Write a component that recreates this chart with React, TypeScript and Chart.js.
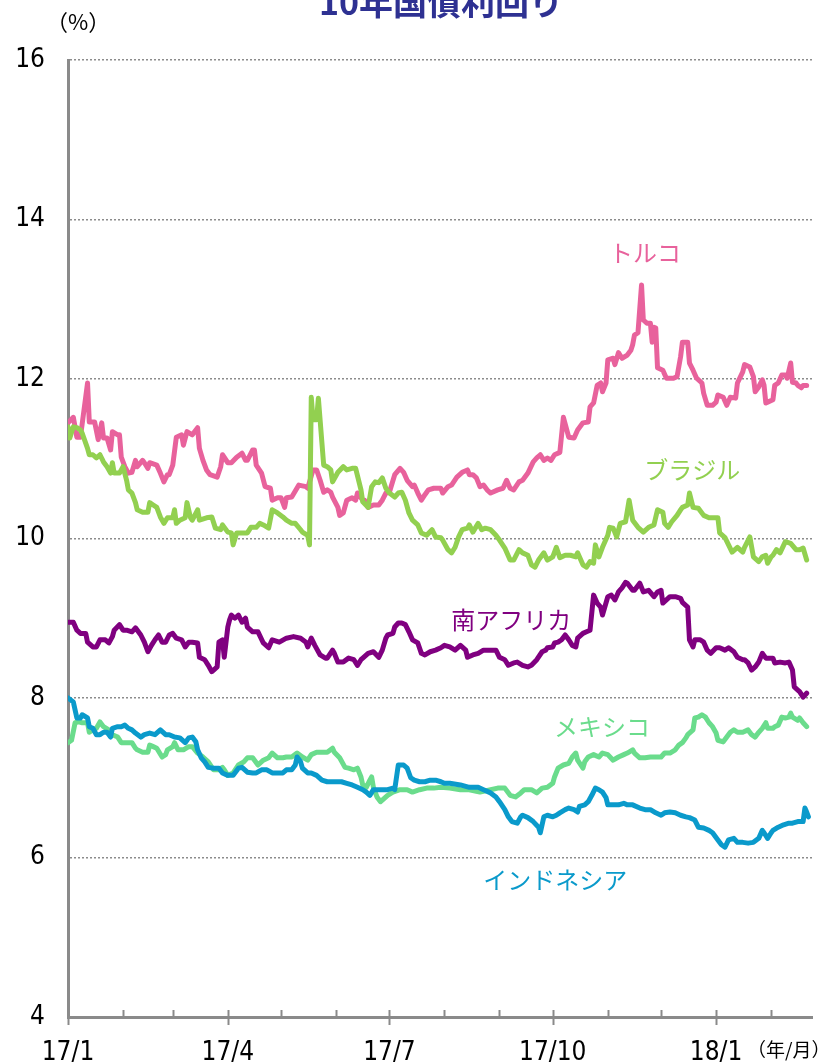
import React, { useEffect, useRef } from 'react';
import { Chart, registerables } from 'chart.js';

Chart.register(...registerables);

// ---- data (x = days since 2017-01-01, y = 10-year yield %) ----
const monthTicks = [0, 31, 59, 90, 120, 151, 181, 212, 243, 273, 304, 334, 365, 396];
const tickDays = [0, 90, 181, 273, 365];
const tickLabels = ['17/1', '17/4', '17/7', '17/10', '18/1'];
const yTicks = [4, 6, 8, 10, 12, 14, 16];

const seriesNames = ['トルコ', 'ブラジル', '南アフリカ', 'メキシコ', 'インドネシア'];

const turkeyDays = [0,3,5,7,11,12,15,17,19,20,22,24,25,28,29,30,32,34,36,38,39,42,43,45,46,50,52,54,56,57,59,61,64,65,67,70,73,74,76,78,80,84,86,87,90,92,95,98,100,101,104,105,106,109,111,114,115,118,120,122,123,126,130,134,135,138,140,142,144,146,148,149,152,153,155,157,160,162,163,166,167,169,172,175,177,179,181,184,187,189,191,194,195,197,199,201,203,206,210,211,214,216,219,222,225,226,228,230,232,234,236,238,239,242,245,247,249,251,254,256,259,262,264,266,268,270,272,274,277,279,282,285,287,290,293,294,296,298,300,301,303,304,307,308,310,312,315,317,318,319,321,323,324,326,328,329,330,331,332,335,337,341,343,345,346,349,350,352,354,357,358,360,363,365,366,369,371,373,376,377,380,381,384,386,387,389,391,392,393,394,397,398,400,402,404,405,407,408,410,411,413,414,416];
const turkeyValues = [11.45,11.52,11.27,11.27,11.95,11.46,11.46,11.24,11.45,11.26,11.26,11.11,11.34,11.30,11.30,11.02,10.90,10.82,10.83,10.98,10.90,10.98,10.95,10.88,10.95,10.92,10.82,10.71,10.80,10.80,10.92,11.27,11.30,11.17,11.34,11.30,11.39,11.13,10.98,10.86,10.80,10.77,10.90,11.05,10.95,10.95,11.02,11.07,10.98,10.98,11.11,11.11,10.92,10.82,10.65,10.63,10.48,10.51,10.51,10.39,10.51,10.52,10.67,10.65,10.63,10.86,10.86,10.73,10.58,10.61,10.58,10.52,10.39,10.29,10.32,10.48,10.51,10.48,10.57,10.48,10.48,10.39,10.42,10.42,10.48,10.57,10.58,10.80,10.88,10.83,10.73,10.65,10.67,10.57,10.48,10.55,10.61,10.63,10.63,10.57,10.65,10.67,10.77,10.83,10.86,10.80,10.80,10.76,10.65,10.67,10.61,10.57,10.58,10.61,10.63,10.73,10.63,10.61,10.71,10.73,10.82,10.96,11.01,11.05,10.98,11.01,10.98,11.05,11.08,11.52,11.27,11.26,11.36,11.45,11.46,11.65,11.70,11.92,11.95,11.84,11.95,12.24,12.26,12.18,12.33,12.26,12.30,12.36,12.43,12.55,12.58,13.18,12.74,12.70,12.70,12.46,12.65,12.64,12.14,12.11,12.01,12.01,12.03,12.28,12.46,12.46,12.20,12.11,12.01,11.95,11.82,11.67,11.67,11.71,11.80,11.77,11.67,11.77,11.76,11.95,12.09,12.18,12.15,12.03,11.84,11.90,11.99,11.92,11.70,11.71,11.74,11.92,11.95,12.05,12.05,12.01,12.20,11.96,11.95,11.92,11.89,11.92,11.92];

const brazilDays = [0,1,3,5,7,8,11,12,14,16,18,20,22,24,25,26,29,31,33,34,36,38,39,42,45,46,48,50,52,54,56,59,60,61,63,66,67,69,70,73,74,78,81,83,86,87,90,92,93,95,99,101,103,106,108,110,113,115,118,121,123,126,128,131,132,135,136,137,138,140,141,144,146,148,149,152,155,157,160,162,165,166,169,171,173,175,177,179,181,184,186,188,190,192,194,197,199,202,205,207,210,211,214,216,218,220,222,225,226,228,231,233,235,238,241,243,246,249,251,254,256,259,261,263,265,268,270,273,275,277,280,283,286,287,290,292,294,296,297,299,301,304,305,307,309,311,314,316,318,321,324,327,330,332,335,336,338,340,343,345,346,349,350,352,355,358,361,366,367,370,372,374,377,380,381,384,386,389,391,393,394,396,397,399,401,404,407,410,412,414,416];
const brazilValues = [11.40,11.26,11.40,11.39,11.36,11.32,11.13,11.05,11.05,11.01,11.05,10.96,10.90,10.82,10.95,10.82,10.82,10.90,10.73,10.61,10.57,10.45,10.36,10.33,10.33,10.45,10.42,10.39,10.27,10.19,10.26,10.26,10.36,10.19,10.23,10.26,10.45,10.26,10.23,10.36,10.23,10.26,10.27,10.13,10.11,10.17,10.08,10.07,9.92,10.07,10.07,10.07,10.14,10.14,10.19,10.17,10.13,10.36,10.32,10.27,10.23,10.19,10.19,10.11,10.08,10.04,9.92,11.77,11.49,11.49,11.76,10.92,10.90,10.86,10.71,10.83,10.90,10.86,10.88,10.88,10.61,10.46,10.39,10.65,10.71,10.70,10.76,10.63,10.57,10.52,10.57,10.58,10.48,10.32,10.23,10.17,10.07,10.04,10.11,10.02,10.01,9.98,9.86,9.82,9.89,10.02,10.11,10.13,10.17,10.08,10.19,10.11,10.13,10.11,10.04,9.98,9.88,9.73,9.73,9.86,9.82,9.79,9.67,9.64,9.73,9.82,9.73,9.77,9.89,9.76,9.79,9.79,9.77,9.82,9.67,9.64,9.71,9.69,9.92,9.77,9.89,10.04,10.14,10.13,10.02,10.19,10.21,10.48,10.23,10.14,10.08,10.14,10.17,10.36,10.33,10.19,10.14,10.21,10.29,10.36,10.39,10.42,10.57,10.39,10.38,10.29,10.26,10.26,10.07,10.01,9.92,9.83,9.89,9.83,9.89,10.02,9.77,9.71,9.77,9.79,9.69,9.77,9.79,9.86,9.82,9.96,9.94,9.86,9.86,9.88,9.73];

const safricaDays = [0,3,5,7,10,11,14,16,18,21,23,25,26,29,31,33,36,38,41,43,45,47,49,51,53,55,57,59,61,64,66,68,70,73,74,77,79,81,82,84,85,87,88,90,91,92,94,96,98,100,101,104,107,110,113,115,119,123,127,131,134,135,137,139,142,145,146,149,150,152,155,158,161,163,165,166,169,172,175,177,179,180,183,184,186,188,190,192,194,197,199,201,204,207,210,212,215,218,221,224,225,228,231,234,238,241,243,246,248,251,253,256,259,261,264,267,269,270,273,274,276,278,280,282,284,286,287,290,292,294,296,298,300,301,304,306,308,310,312,314,315,318,319,322,324,327,330,332,334,335,337,339,342,345,346,349,350,352,353,356,358,360,362,365,367,370,372,375,377,380,381,383,385,387,389,391,393,394,397,398,401,404,406,408,409,411,412,414,416];
const safricaValues = [8.95,8.95,8.85,8.81,8.81,8.70,8.64,8.64,8.73,8.73,8.69,8.77,8.85,8.92,8.85,8.85,8.83,8.88,8.79,8.70,8.58,8.66,8.73,8.79,8.70,8.70,8.79,8.81,8.75,8.73,8.64,8.70,8.70,8.69,8.51,8.48,8.41,8.33,8.35,8.39,8.70,8.73,8.51,8.89,8.98,9.04,9.00,9.04,8.95,9.00,8.89,8.83,8.83,8.69,8.63,8.73,8.70,8.75,8.77,8.75,8.70,8.64,8.75,8.66,8.54,8.50,8.50,8.60,8.56,8.45,8.45,8.50,8.48,8.41,8.48,8.50,8.56,8.58,8.51,8.60,8.75,8.79,8.81,8.89,8.94,8.94,8.92,8.83,8.73,8.69,8.56,8.54,8.58,8.60,8.63,8.66,8.64,8.60,8.66,8.60,8.51,8.54,8.56,8.60,8.60,8.60,8.51,8.48,8.41,8.44,8.45,8.41,8.39,8.41,8.48,8.58,8.60,8.63,8.64,8.69,8.70,8.73,8.79,8.73,8.66,8.64,8.75,8.81,8.83,8.85,9.29,9.19,9.14,9.04,9.27,9.29,9.23,9.33,9.38,9.45,9.44,9.35,9.35,9.44,9.33,9.35,9.27,9.33,9.35,9.19,9.23,9.27,9.27,9.25,9.20,9.14,8.73,8.64,8.73,8.73,8.70,8.60,8.56,8.63,8.63,8.60,8.63,8.58,8.51,8.48,8.48,8.44,8.35,8.39,8.45,8.56,8.50,8.50,8.50,8.44,8.45,8.44,8.45,8.35,8.14,8.10,8.08,8.01,8.06];

const mexicoDays = [0,2,4,6,8,11,12,14,16,18,20,23,25,28,30,33,36,38,39,42,45,46,48,50,53,55,56,59,60,62,65,68,70,73,76,79,82,85,87,88,90,93,96,99,101,104,107,110,113,115,118,121,123,126,129,132,135,137,140,144,146,149,150,153,156,158,161,163,165,166,168,170,171,172,174,176,177,180,183,187,191,194,198,202,206,210,215,221,226,232,238,242,246,249,252,255,257,261,264,267,270,273,274,276,279,282,284,286,287,290,291,293,296,299,301,304,307,310,313,315,318,319,322,325,328,331,334,336,339,342,344,346,348,349,352,353,355,357,359,361,363,365,366,369,371,373,375,377,380,383,385,387,389,391,393,394,397,398,400,402,404,406,407,408,411,412,414,416];
const mexicoValues = [7.44,7.47,7.69,7.70,7.69,7.69,7.57,7.60,7.62,7.70,7.64,7.60,7.54,7.51,7.44,7.44,7.44,7.37,7.35,7.32,7.32,7.41,7.39,7.37,7.26,7.29,7.35,7.39,7.44,7.35,7.35,7.39,7.39,7.31,7.26,7.20,7.10,7.10,7.13,7.10,7.03,7.06,7.16,7.20,7.25,7.25,7.16,7.22,7.25,7.31,7.25,7.25,7.26,7.26,7.31,7.26,7.22,7.29,7.32,7.32,7.32,7.37,7.32,7.25,7.13,7.12,7.10,7.12,7.01,6.91,6.88,6.97,7.01,6.88,6.76,6.70,6.72,6.78,6.82,6.85,6.85,6.82,6.85,6.87,6.87,6.88,6.87,6.85,6.85,6.82,6.85,6.87,6.87,6.78,6.76,6.81,6.85,6.85,6.81,6.87,6.88,6.93,7.01,7.12,7.16,7.18,7.26,7.31,7.22,7.12,7.20,7.26,7.29,7.26,7.31,7.29,7.22,7.26,7.29,7.31,7.35,7.31,7.25,7.25,7.26,7.26,7.26,7.31,7.31,7.35,7.41,7.44,7.50,7.54,7.60,7.75,7.76,7.79,7.76,7.69,7.64,7.56,7.47,7.45,7.51,7.57,7.60,7.57,7.57,7.60,7.54,7.51,7.57,7.62,7.69,7.62,7.62,7.64,7.66,7.76,7.75,7.76,7.81,7.76,7.72,7.75,7.69,7.64];

const indonesiaDays = [0,3,5,7,8,11,12,14,16,18,20,22,24,25,28,30,32,34,36,38,41,43,46,49,52,55,57,60,63,66,68,70,72,73,75,77,79,82,85,87,90,93,96,98,101,104,106,109,112,115,118,121,123,126,128,129,131,132,135,137,140,143,146,149,154,157,160,163,166,168,170,172,176,180,183,184,186,189,191,193,195,198,201,204,207,210,212,215,221,226,231,234,238,241,243,246,248,250,253,255,256,259,262,265,266,268,270,273,275,277,280,282,285,287,288,291,293,295,297,299,301,303,304,307,310,313,315,318,322,325,328,331,334,336,339,342,345,348,350,353,355,358,361,363,366,368,370,372,375,377,380,383,386,389,391,392,394,396,397,400,403,406,408,411,414,415,416,417];
const indonesiaValues = [8.00,7.95,7.75,7.75,7.79,7.75,7.64,7.62,7.54,7.54,7.57,7.57,7.51,7.62,7.64,7.64,7.66,7.62,7.60,7.56,7.51,7.54,7.56,7.54,7.60,7.54,7.54,7.51,7.50,7.44,7.50,7.51,7.45,7.35,7.25,7.20,7.13,7.12,7.12,7.06,7.03,7.03,7.12,7.13,7.07,7.06,7.06,7.10,7.10,7.06,7.06,7.06,7.10,7.10,7.16,7.26,7.20,7.12,7.06,7.06,7.03,6.97,6.95,6.95,6.95,6.93,6.91,6.88,6.85,6.82,6.78,6.85,6.85,6.85,6.87,6.85,7.16,7.16,7.12,7.00,6.97,6.95,6.95,6.97,6.97,6.95,6.93,6.93,6.91,6.88,6.88,6.85,6.81,6.76,6.70,6.60,6.51,6.45,6.43,6.51,6.53,6.50,6.45,6.38,6.31,6.51,6.53,6.51,6.53,6.56,6.60,6.62,6.60,6.57,6.64,6.66,6.70,6.78,6.87,6.85,6.82,6.75,6.66,6.66,6.66,6.68,6.66,6.66,6.62,6.60,6.60,6.56,6.53,6.56,6.57,6.56,6.53,6.51,6.50,6.47,6.38,6.37,6.34,6.31,6.22,6.16,6.13,6.22,6.24,6.19,6.19,6.18,6.19,6.24,6.34,6.31,6.24,6.31,6.34,6.38,6.41,6.43,6.43,6.45,6.45,6.62,6.57,6.51];

const FONT_NUM = "'Liberation Sans Narrow', 'Arial Narrow', 'DejaVu Sans Condensed', 'Liberation Sans', sans-serif";
const FONT_JP = "'Noto Sans CJK JP', 'Noto Sans', sans-serif";

export default function App() {
  const ref = useRef<HTMLCanvasElement>(null);

  useEffect(() => {
    const canvas = ref.current;
    if (!canvas) return;
    const pts = (d: number[], v: number[]) => d.map((x, i) => ({ x, y: v[i] }));

    const series = [
      { name: seriesNames[0], days: turkeyDays, vals: turkeyValues, color: '#E8629C', order: 5, lx: 325, ly: 13.58 },
      { name: seriesNames[1], days: brazilDays, vals: brazilValues, color: '#92D050', order: 2, lx: 351.5, ly: 10.86 },
      { name: seriesNames[2], days: safricaDays, vals: safricaValues, color: '#800080', order: 3, lx: 249.6, ly: 8.98 },
      { name: seriesNames[3], days: mexicoDays, vals: mexicoValues, color: '#6ADC8C', order: 4, lx: 300.8, ly: 7.64 },
      { name: seriesNames[4], days: indonesiaDays, vals: indonesiaValues, color: '#0A9ACB', order: 1, lx: 274.4, ly: 5.72 },
    ];

    const overlay = {
      id: 'overlay',
      afterDraw(chart: any) {
        const ctx = chart.ctx as CanvasRenderingContext2D;
        const xs = chart.scales.x;
        const ys = chart.scales.y;
        const area = chart.chartArea;
        ctx.save();
        // x tick marks
        ctx.strokeStyle = '#8a8a8a';
        ctx.lineWidth = 2;
        monthTicks.forEach((d) => {
          const px = Math.round(xs.getPixelForValue(d)) + 0.5;
          const major = tickDays.indexOf(d) >= 0;
          ctx.beginPath();
          ctx.moveTo(px, area.bottom - 7);
          ctx.lineTo(px, area.bottom + (major ? 8 : 0));
          ctx.stroke();
        });
        // title
        ctx.fillStyle = '#2E3192';
        ctx.font = `bold 34px ${FONT_JP}`;
        ctx.textAlign = 'center';
        ctx.textBaseline = 'alphabetic';
        ctx.fillText('10年国債利回り', 441, 15);
        // unit labels
        ctx.fillStyle = '#000';
        ctx.font = `22px ${FONT_JP}`;
        ctx.textAlign = 'left';
        ctx.fillText('（%）', 46, 30);
        ctx.font = `19px ${FONT_JP}`;
        ctx.fillText('（年/月）', 747, 1057);
        // series labels
        ctx.font = `24px ${FONT_JP}`;
        ctx.textAlign = 'center';
        ctx.textBaseline = 'middle';
        series.forEach((s) => {
          ctx.fillStyle = s.color;
          ctx.fillText(s.name, xs.getPixelForValue(s.lx), ys.getPixelForValue(s.ly));
        });
        ctx.restore();
      },
    };

    const chart = new Chart(canvas, {
      type: 'line',
      data: {
        datasets: series.map((s) => ({
          label: s.name,
          data: pts(s.days, s.vals),
          borderColor: s.color,
          backgroundColor: s.color,
          borderWidth: 5,
          pointRadius: 0,
          tension: 0,
          fill: false,
          order: s.order,
          borderJoinStyle: 'round',
          borderCapStyle: 'round',
        })),
      },
      options: {
        responsive: false,
        animation: false,
        devicePixelRatio: 1,
        layout: { padding: { top: 60, right: 16, bottom: 0, left: 0 } },
        plugins: {
          legend: { display: false },
          tooltip: { enabled: false },
          title: { display: false },
        },
        scales: {
          x: {
            type: 'linear',
            min: 0,
            max: 419,
            afterFit: (s: any) => { s.height = 47; },
            afterBuildTicks: (s: any) => { s.ticks = monthTicks.map((v) => ({ value: v })); },
            grid: { display: false },
            border: { display: true, color: '#8a8a8a', width: 3 },
            ticks: {
              autoSkip: false,
              maxRotation: 0,
              padding: 13,
              color: '#000',
              font: { family: FONT_NUM, size: 26 },
              callback: (v: any) => {
                const i = tickDays.indexOf(Number(v));
                return i >= 0 ? tickLabels[i] : '';
              },
            },
          },
          y: {
            min: 4,
            max: 16,
            afterFit: (s: any) => { s.width = 68; },
            afterBuildTicks: (s: any) => { s.ticks = yTicks.map((v) => ({ value: v })); },
            grid: {
              color: (c: any) => (c.tick && c.tick.value === 4 ? 'rgba(0,0,0,0)' : '#8c8c8c'),
              lineWidth: 1.5,
              drawTicks: false,
            },
            border: { display: true, color: '#8a8a8a', width: 3, dash: [2, 2] },
            ticks: {
              padding: 23,
              color: '#000',
              font: { family: FONT_NUM, size: 26 },
            },
          },
        },
      },
      plugins: [overlay],
    } as any);

    return () => chart.destroy();
  }, []);

  return (
    <div style={{ position: 'fixed', left: 0, top: 0, width: 828, height: 1064, background: '#fff' }}>
      <canvas ref={ref} width={828} height={1064} style={{ display: 'block' }} />
    </div>
  );
}
